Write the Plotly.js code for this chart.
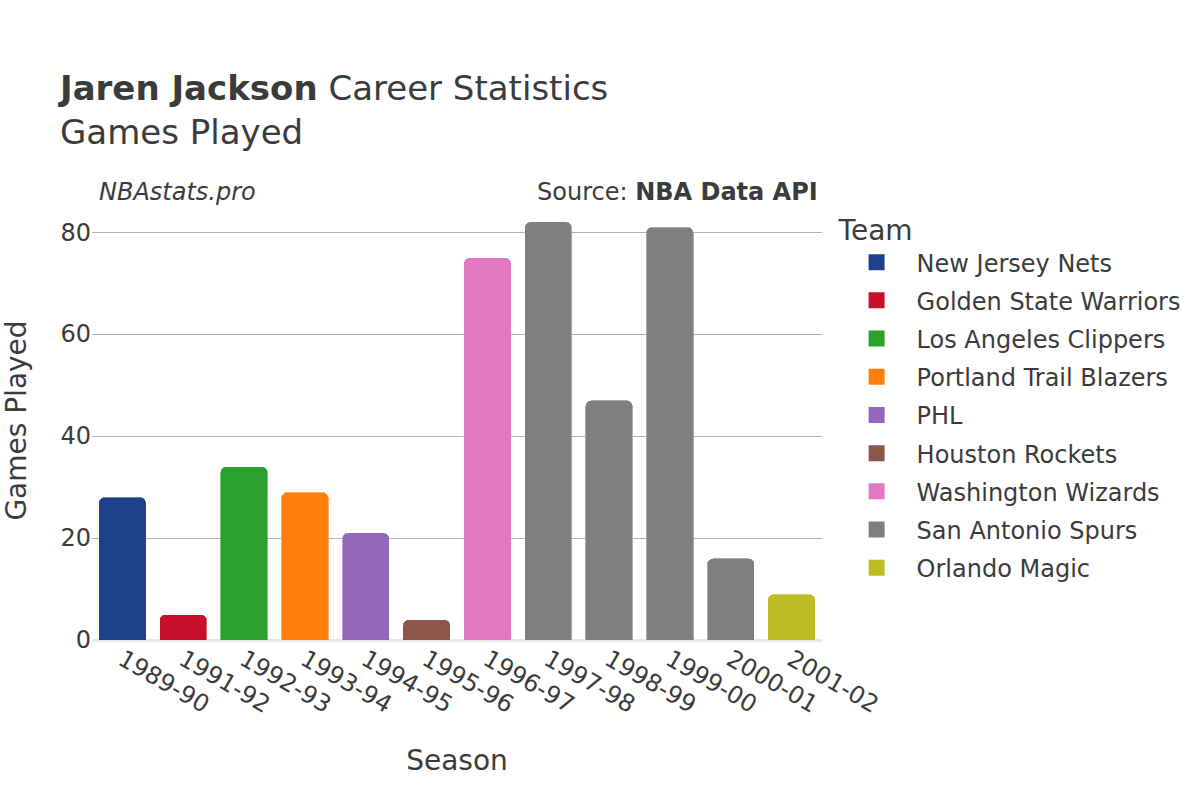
<!DOCTYPE html>
<html>
<head>
<meta charset="utf-8">
<script src="https://cdn.plot.ly/plotly-3.0.1.min.js"></script>
<style>
  html, body { margin: 0; padding: 0; background: #fff; }
  #chart { width: 1200px; height: 800px; }
</style>
</head>
<body>
<div id="chart"></div>
<script>
var seasons = ['1989-90', '1991-92', '1992-93', '1993-94', '1994-95', '1995-96',
               '1996-97', '1997-98', '1998-99', '1999-00', '2000-01', '2001-02'];
var seasonTeams = ['New Jersey Nets', 'Golden State Warriors', 'Los Angeles Clippers',
                   'Portland Trail Blazers', 'PHL', 'Houston Rockets', 'Washington Wizards',
                   'San Antonio Spurs', 'San Antonio Spurs', 'San Antonio Spurs',
                   'San Antonio Spurs', 'Orlando Magic'];
var gamesPlayed = [28, 5, 34, 29, 21, 4, 75, 82, 47, 81, 16, 9];

var teams = ['New Jersey Nets', 'Golden State Warriors', 'Los Angeles Clippers',
             'Portland Trail Blazers', 'PHL', 'Houston Rockets', 'Washington Wizards',
             'San Antonio Spurs', 'Orlando Magic'];
var teamColors = ['#1d428a', '#c8102e', '#2ca02c', '#ff7f0e', '#9467bd',
                  '#8c564b', '#e377c2', '#7f7f7f', '#bcbd22'];

var FONT = 'DejaVu Sans, sans-serif';
var TEXT = '#3b3b3b';

var traces = [];
teams.forEach(function (team, ti) {
    var xs = [], ys = [];
    for (var i = 0; i < seasons.length; i++) {
        if (seasonTeams[i] === team) {
            xs.push(seasons[i]);
            ys.push(gamesPlayed[i]);
        }
    }
    traces.push({
        type: 'bar',
        name: team,
        legendgroup: 'g' + ti,
        showlegend: false,
        x: xs,
        y: ys,
        marker: { color: teamColors[ti], line: { color: 'rgba(255,255,255,0.35)', width: 1 } },
        hoverinfo: 'x+y+name'
    });
});

// legend-only entries, so the legend swatches can be drawn larger than bar swatches
teams.forEach(function (team, ti) {
    traces.push({
        type: 'scatter',
        mode: 'markers',
        name: team,
        legendgroup: 'g' + ti,
        x: [seasons[0]],
        y: [null],
        marker: { color: teamColors[ti], symbol: 'square', size: 20 },
        hoverinfo: 'skip'
    });
});

var layout = {
    width: 1200,
    height: 800,
    font: { family: FONT, color: TEXT, size: 24 },
    title: {
        text: '<b>Jaren Jackson</b> Career Statistics<br>Games Played',
        x: 60 / 1200, xanchor: 'left',
        y: 0.875, yanchor: 'top',
        font: { size: 34, color: TEXT }
    },
    barmode: 'stack',
    bargap: 0.22,
    barcornerradius: 6,
    margin: { l: 92, r: 378, t: 201, b: 160 },
    xaxis: {
        type: 'category',
        categoryorder: 'array',
        categoryarray: seasons,
        range: [-0.5, seasons.length - 0.5],
        tickangle: 30,
        tickfont: { size: 24 },
        title: { text: 'Season', font: { size: 28 }, standoff: 32 },
        showgrid: false,
        ticks: '',
        automargin: false
    },
    yaxis: {
        range: [0, 86.1],
        tickvals: [0, 20, 40, 60, 80],
        tickfont: { size: 24 },
        title: { text: 'Games Played', font: { size: 28 }, standoff: 26 },
        gridcolor: '#b0b0b0',
        gridwidth: 1,
        zeroline: true,
        zerolinecolor: '#e8e8e8',
        zerolinewidth: 3,
        ticks: '',
        automargin: false
    },
    legend: {
        title: { text: 'Team', font: { size: 28 } },
        x: 1.02, xanchor: 'left',
        y: 0.994, yanchor: 'top',
        font: { size: 24 },
        traceorder: 'grouped',
        tracegroupgap: 4,
        itemwidth: 70,
        itemsizing: 'trace',
        maxheight: 1
    },
    annotations: [
        {
            text: '<i>NBAstats.pro</i>',
            xref: 'paper', yref: 'paper',
            x: 0.007, y: 1.02, xanchor: 'left', yanchor: 'middle',
            showarrow: false, font: { size: 24, color: TEXT }
        },
        {
            text: 'Source: <b>NBA Data API</b>',
            xref: 'paper', yref: 'paper',
            x: 0.997, y: 1.02, xanchor: 'right', yanchor: 'middle',
            showarrow: false, font: { size: 24, color: TEXT }
        }
    ],
    plot_bgcolor: '#fff',
    paper_bgcolor: '#fff'
};

Plotly.newPlot('chart', traces, layout, { displayModeBar: false });
</script>
</body>
</html>
